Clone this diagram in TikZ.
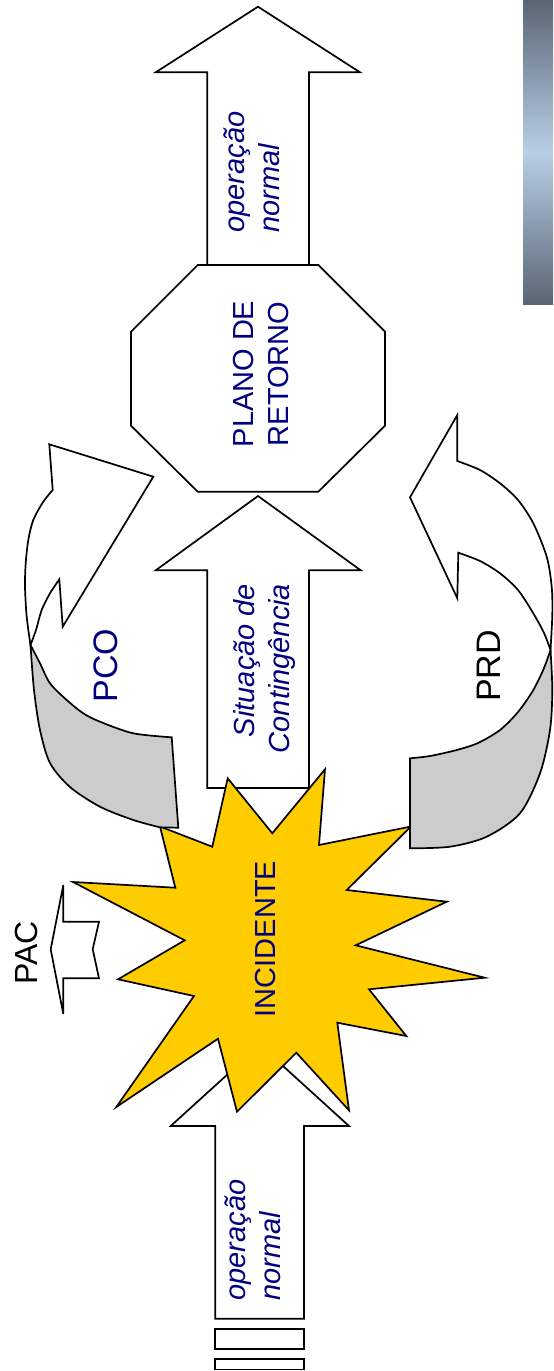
\documentclass[tikz,border=0pt]{standalone}
\usepackage{fontspec}
\setmainfont{Liberation Sans}

\definecolor{navytext}{RGB}{0,0,128}
\definecolor{starfill}{RGB}{255,204,0}
\definecolor{bandgray}{RGB}{204,204,204}
\definecolor{bardark}{RGB}{90,102,116}
\definecolor{barlight}{RGB}{184,206,230}

\begin{document}
\begin{tikzpicture}[x=0.5pt, y=-0.5pt,
        outline/.style = {draw = black, line width = 0.85pt, fill = white},
        underside/.style = {outline, fill = bandgray},
        flowtext/.style = {font = {\fontsize{14.5}{17.5}\selectfont}, navytext, rotate = 90, inner sep = 0pt},
        tagtext/.style = {font = {\fontsize{17}{20}\selectfont}, rotate = 90, inner sep = 0pt}]
        \useasboundingbox (0, 0) rectangle (553, 1371);

        \shade[top color = bardark, bottom color = bardark, middle color = barlight] (523, 0) rectangle (553, 304);

        % normal operation, top
        \filldraw[outline] (207.3, 265) -- (207.3, 72.3) -- (155.7, 72.3) -- (258, 6.7) -- (360, 72.3) -- (309, 72.3) -- (309, 265) -- cycle;
        \node[flowtext, font = {\itshape\fontsize{14.5}{17.5}\selectfont}, align = left] (topFlow) at (252, 172) {operação\\normal};

        \filldraw[outline] (197.7, 265) -- (318.3, 265) -- (385, 331.7) -- (385, 425.7) -- (318.3, 491.7) -- (197.7, 491.7) -- (131, 425.7) -- (131, 331.7) -- cycle;
        \node[flowtext, align = center] (planNode) at (260.8, 374) {PLANO DE\\RETORNO};

        \filldraw[outline] (207.3, 788) -- (207.3, 570.3) -- (155.7, 570.3) -- (258, 496) -- (360.7, 570.3) -- (309, 570.3) -- (309, 788) -- cycle;
        \node[flowtext, font = {\itshape\fontsize{14.5}{17.5}\selectfont}, align = right] (crisisFlow) at (264, 668.5) {Situação de\\Contingência};

        % normal operation, bottom
        \filldraw[outline] (215.3, 1318.7) -- (215.3, 1126) -- (170.7, 1126) -- (259.9, 1045) -- (349, 1126) -- (304, 1126) -- (304, 1318.7) -- cycle;
        \draw[outline] (215.3, 1329.3) rectangle (304, 1349.3);
        \draw[outline] (215.3, 1359.3) rectangle (304, 1369.5);
        \node[flowtext, font = {\itshape\fontsize{14.5}{17.5}\selectfont}, align = left] (bottomFlow) at (253.2, 1240) {operação\\normal};

        \filldraw[outline, fill = starfill] (160, 826.5) -- (212.3, 846.7) -- (227.7, 778.3) -- (272.3, 833.3) -- (325, 769.3) -- (319, 845)
                -- (411, 826.5) -- (346.7, 890) -- (446.7, 901.7) -- (355.7, 945.3) -- (484.7, 977.7) -- (369, 989.3)
                -- (406.3, 1036) -- (337.3, 1022.7) -- (349, 1110.3) -- (296.3, 1052.7) -- (237, 1111.7) -- (218, 1038.7)
                -- (116.3, 1107) -- (194, 996) -- (118, 979.3) -- (184.7, 940.3) -- (73, 882) -- (175.3, 887.7) -- cycle;
        \node[flowtext] (incidentNode) at (265.5, 939) {INCIDENTE};

        % PCO
        \filldraw[outline] (52.7, 490) -- (49.3, 444.3) -- (153.3, 476.7) -- (62.7, 626.7) -- (59.3, 579.3)
                -- plot[smooth] coordinates {(59.3, 579.3) (50, 593.3) (41.7, 610) (36, 630) (30.5, 645)}
                -- plot[smooth] coordinates {(30.5, 645) (26.7, 616.7) (25, 586.7) (25.7, 563.3) (28.3, 540) (33.3, 520) (43.3, 501.7) (52.7, 490)} -- cycle;
        \filldraw[underside] plot[smooth] coordinates {(30.5, 645) (40, 663.3) (50, 683.3) (66.7, 700) (83.3, 713.3) (100, 721.7) (133.3, 733.3) (171.7, 737.3)}
                -- (178.3, 827.7) -- (160, 827.3)
                -- plot[smooth] coordinates {(160, 827.3) (133.3, 820) (100, 806.7) (70, 787) (50, 763) (40, 730) (34, 690) (30.5, 645)} -- cycle;
        \node[tagtext, navytext] (pcoLabel) at (105.8, 665.5) {PCO};

        % PRD
        \filldraw[outline] (457.3, 461) -- (457.3, 415) -- (410, 497.3) -- (457.3, 598.3) -- (458.3, 552.7)
                -- plot[smooth] coordinates {(458.3, 552.7) (480, 561) (500, 573.3) (518, 590) (533.3, 613.3) (544, 633) (550.5, 650)}
                -- plot[smooth] coordinates {(550.5, 650) (552.3, 615) (551.7, 586.7) (546.7, 556.7) (533.3, 523.3) (518, 500) (500, 483.3) (480, 470) (457.3, 461)} -- cycle;
        \filldraw[underside] plot[smooth] coordinates {(550.5, 650) (544, 668) (533.3, 690) (518, 712) (500, 730) (478, 743) (456.7, 750) (430, 756) (410, 758.3)}
                -- (410, 848.3)
                -- plot[smooth] coordinates {(410, 848.3) (450, 846.7) (486.7, 836.7) (520, 813.3) (540, 773.3) (550, 730) (552.3, 690) (550.5, 650)} -- cycle;
        \node[tagtext, black] (prdLabel) at (488.3, 666) {PRD};

        % PAC
        \filldraw[outline] (50.7, 949.3) -- (63.3, 885) -- (63.3, 921.7) -- (99, 921.7) -- (92.7, 949.3) -- (99, 978.3) -- (63.3, 978.3) -- (63.3, 1014) -- cycle;
        \node[tagtext, font = {\fontsize{16}{19}\selectfont}, black] (pacLabel) at (26.3, 953) {PAC};
    \end{tikzpicture}
\end{document}
